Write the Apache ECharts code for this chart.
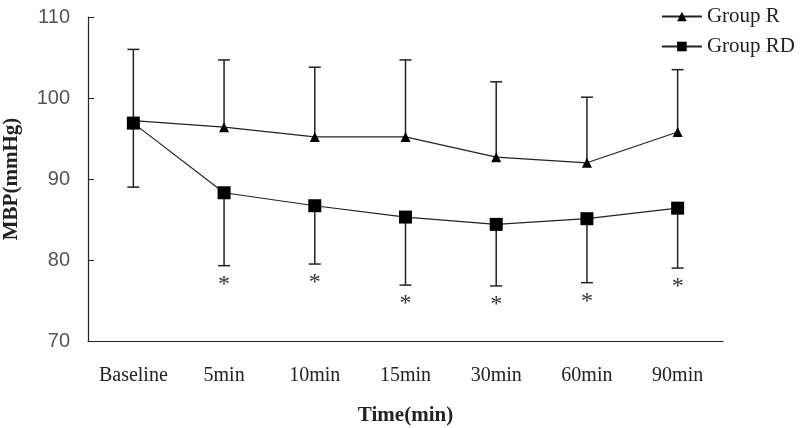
<!DOCTYPE html>
<html><head><meta charset="utf-8">
<script src="https://cdn.jsdelivr.net/npm/echarts@6/dist/echarts.min.js"></script>
<style>html,body{margin:0;padding:0;background:#fff}#c{width:800px;height:428px}</style>
</head><body><div id="c"></div>
<script>
var categories = ['Baseline','5min','10min','15min','30min','60min','90min'];
var groupR = [97.2, 96.4, 95.2, 95.2, 92.7, 92.0, 95.8];
var groupRUpper = [106.0, 104.7, 103.8, 104.7, 102.0, 100.1, 103.5];
var groupRD = [96.9, 88.3, 86.7, 85.3, 84.4, 85.1, 86.4];
var groupRDLower = [89.0, 79.3, 79.5, 76.9, 76.8, 77.2, 79.0];
var significance = ['', '*', '*', '*', '*', '*', '*'];
var yTicks = [70, 80, 90, 100, 110];

var serif = '"Liberation Serif", "Times New Roman", serif';

function errData(mean, end, marks) {
  return mean.map(function (m, i) { return [i, m, end[i], marks ? marks[i] : '']; });
}
function renderErr(params, api) {
  var x = api.value(0);
  var p0 = api.coord([x, api.value(1)]);
  var p1 = api.coord([x, api.value(2)]);
  var mark = api.value(3);
  var st = { stroke: '#222', lineWidth: 1.5 };
  var children = [
    { type: 'line', shape: { x1: p0[0], y1: p0[1], x2: p1[0], y2: p1[1] }, style: st },
    { type: 'line', shape: { x1: p1[0] - 6, y1: p1[1], x2: p1[0] + 6, y2: p1[1] }, style: st }
  ];
  if (mark) {
    children.push({ type: 'text', style: { text: mark, x: p1[0], y: p1[1] + 7, textAlign: 'center', textVerticalAlign: 'top', font: '24px ' + serif, fill: '#333' } });
  }
  return { type: 'group', children: children };
}

var chart = echarts.init(document.getElementById('c'));
chart.setOption({
  animation: false,
  grid: { left: 88, right: 77, top: 17, bottom: 87, containLabel: false, outerBoundsMode: 'none' },
  legend: {
    orient: 'vertical', right: 0, top: 1, itemWidth: 40, itemHeight: 12, itemGap: 9,
    textStyle: { fontFamily: serif, fontSize: 21, color: '#222' },
    data: ['Group R', 'Group RD']
  },
  xAxis: {
    type: 'category', data: categories, boundaryGap: true,
    name: 'Time(min)', nameLocation: 'middle', nameGap: 64,
    nameTextStyle: { fontFamily: serif, fontSize: 21, fontWeight: 'bold', color: '#222' },
    axisLine: { lineStyle: { color: '#222', width: 1.2 } },
    axisTick: { inside: true, length: 5, lineStyle: { color: '#222' } },
    axisLabel: { fontFamily: serif, fontSize: 20, color: '#222', margin: 25 }
  },
  yAxis: {
    type: 'value', min: 70, max: 110, interval: 10,
    name: 'MBP(mmHg)', nameLocation: 'middle', nameGap: 66, nameRotate: 90,
    nameTextStyle: { fontFamily: serif, fontSize: 21, fontWeight: 'bold', color: '#222' },
    axisLine: { show: true, lineStyle: { color: '#222', width: 1.2 } },
    axisTick: { show: true, inside: true, length: 6, lineStyle: { color: '#222' } },
    splitLine: { show: false },
    axisLabel: { fontFamily: '"Liberation Sans", Arial, sans-serif', fontSize: 20, color: '#555', margin: 18,
      formatter: function (v) { return yTicks.indexOf(v) >= 0 ? String(v) : ''; } }
  },
  series: [
    { name: 'errR', type: 'custom', renderItem: renderErr, data: errData(groupR, groupRUpper), z: 1, silent: true },
    { name: 'errRD', type: 'custom', renderItem: renderErr, data: errData(groupRD, groupRDLower, significance), z: 1, silent: true },
    { name: 'Group R', type: 'line', data: groupR, symbol: 'triangle', symbolSize: 10,
      lineStyle: { color: '#222', width: 1.2 }, itemStyle: { color: '#000' }, z: 3 },
    { name: 'Group RD', type: 'line', data: groupRD, symbol: 'rect', symbolSize: 13,
      lineStyle: { color: '#222', width: 1.2 }, itemStyle: { color: '#000' }, z: 3 }
  ]
});
</script></body></html>
